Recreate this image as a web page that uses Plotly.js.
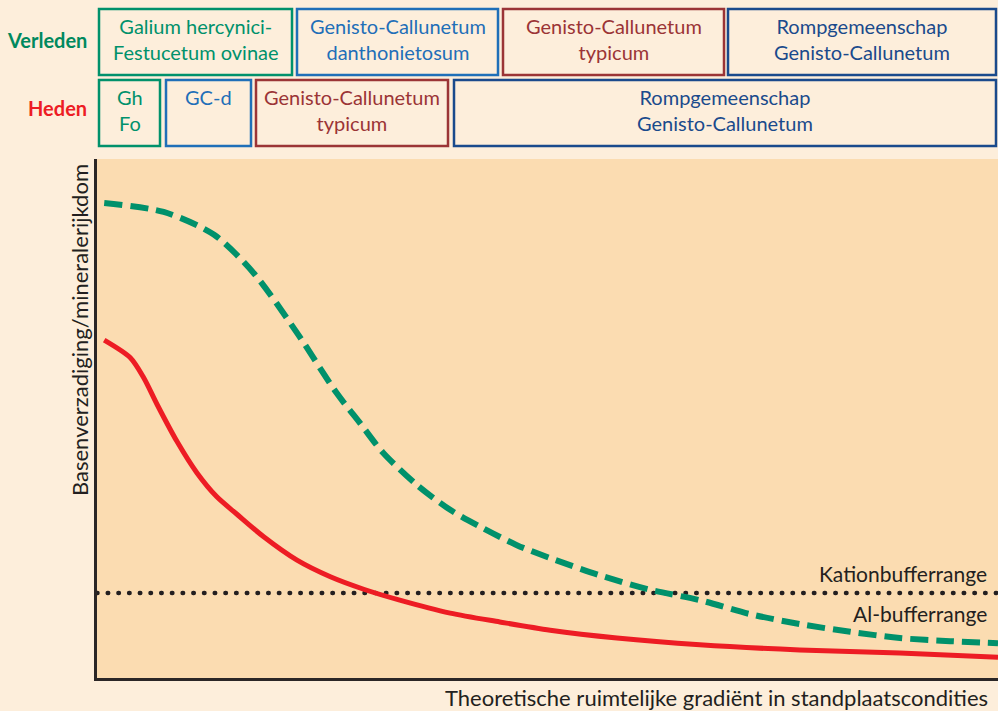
<!DOCTYPE html>
<html>
<head>
<meta charset="utf-8">
<script src="https://cdn.plot.ly/plotly-3.0.1.min.js"></script>
<style>
  html, body { margin: 0; padding: 0; background: #fdeedb; }
  #chart { width: 998px; height: 711px; }
  #chart .scatterlayer .trace:first-child path.js-line { stroke-linecap: round; }
</style>
</head>
<body>
<div id="chart"></div>
<script>
// ---- Data (gradient position 0-100, relative base saturation 0-100) ----
const verledenX = [0.8, 7.4, 13.0, 17.4, 22.2, 26.6, 29.2, 31.7, 35.5, 39.2, 42.8, 46.6, 50.3, 55.8, 61.4, 66.9, 72.5, 78.0, 83.6, 89.1, 94.7, 100];
const verledenY = [91.5, 89.8, 85.4, 78.0, 66.5, 54.9, 49.1, 43.5, 37.2, 32.4, 28.9, 25.6, 23.1, 19.8, 17.0, 15.0, 12.3, 10.4, 8.9, 7.7, 7.1, 6.7];

const hedenX = [0.8, 3.7, 5.2, 6.7, 8.9, 11.1, 13.3, 15.5, 18.5, 22.2, 25.9, 29.6, 33.6, 39.2, 44.7, 50.3, 57.7, 66.9, 78.0, 89.1, 100];
const hedenY = [65.1, 61.7, 57.8, 52.6, 45.5, 39.5, 34.9, 31.6, 27.2, 22.7, 19.5, 17.1, 15.0, 12.5, 10.8, 9.2, 7.7, 6.4, 5.4, 4.8, 4.0];

const kationLevel = 16.4;
const rangeLabels = ["Kationbufferrange", "Al-bufferrange"];

const rowLabels = ["Verleden", "Heden"];
const verledenCommunities = ["Galium hercynici-<br>Festucetum ovinae", "Genisto-Callunetum<br>danthonietosum", "Genisto-Callunetum<br>typicum", "Rompgemeenschap<br>Genisto-Callunetum"];
const hedenCommunities = ["Gh<br>Fo", "GC-d", "Genisto-Callunetum<br>typicum", "Rompgemeenschap<br>Genisto-Callunetum"];

const xTitle = "Theoretische ruimtelijke gradiënt in standplaatscondities";
const yTitle = "Basenverzadiging/mineralerijkdom";

// ---- Layout helpers (pixel -> paper) ----
const W = 998, H = 711, ML = 97, MR = 0, MT = 159, MB = 33;
const PW = W - ML - MR, PH = H - MT - MB;
const px = x => (x - ML) / PW;
const py = y => (H - MB - y) / PH;

const FONT = "Lato, 'Open Sans', sans-serif";
const cGreen = "#00916b", cBlue = "#1f6fb8", cRed = "#9b3436", cNavy = "#1a4a8c";

const rowY = [[9, 75], [80, 146]];
const boxesRow = [
  [[99, 292], [297, 498], [503, 724], [728, 996]],
  [[99, 160], [166, 251], [256, 448], [454, 996]]
];
const boxColors = [cGreen, cBlue, cRed, cNavy];

const shapes = [];
const annotations = [];
const texts = [verledenCommunities, hedenCommunities];
for (let r = 0; r < 2; r++) {
  for (let i = 0; i < 4; i++) {
    const [x0, x1] = boxesRow[r][i];
    const [y0, y1] = rowY[r];
    shapes.push({
      type: "rect", xref: "paper", yref: "paper",
      x0: px(x0), x1: px(x1), y0: py(y1), y1: py(y0),
      line: { color: boxColors[i], width: 2.5 }, fillcolor: "#fdeedb", layer: "above"
    });
    const single = texts[r][i].indexOf("<br>") < 0;
    annotations.push({
      xref: "paper", yref: "paper",
      x: px((x0 + x1) / 2), y: single ? py(y0 + 17) : py((y0 + y1) / 2 - 3),
      xanchor: "center", yanchor: "middle", showarrow: false,
      text: texts[r][i], align: "center",
      font: { family: FONT, size: 20, color: boxColors[i] }
    });
  }
}
annotations.push({
  xref: "paper", yref: "paper", x: px(89), y: py(40), xanchor: "right", yanchor: "middle",
  showarrow: false, text: "<b>" + rowLabels[0] + "</b>", font: { family: FONT, size: 20, color: "#00895e" }
});
annotations.push({
  xref: "paper", yref: "paper", x: px(89), y: py(108), xanchor: "right", yanchor: "middle",
  showarrow: false, text: "<b>" + rowLabels[1] + "</b>", font: { family: FONT, size: 20, color: "#ed1c24" }
});
annotations.push({
  xref: "paper", yref: "paper", x: px(989), y: py(573), xanchor: "right", yanchor: "middle",
  showarrow: false, text: rangeLabels[0], font: { family: FONT, size: 21, color: "#231f20" }
});
annotations.push({
  xref: "paper", yref: "paper", x: px(989), y: py(613), xanchor: "right", yanchor: "middle",
  showarrow: false, text: rangeLabels[1], font: { family: FONT, size: 21, color: "#231f20" }
});
annotations.push({
  xref: "paper", yref: "paper", x: px(990), y: py(697), xanchor: "right", yanchor: "middle",
  showarrow: false, text: xTitle, font: { family: FONT, size: 22, color: "#231f20" }
});
annotations.push({
  xref: "paper", yref: "paper", x: px(79), y: py(330), xanchor: "center", yanchor: "middle",
  showarrow: false, textangle: -90, text: yTitle, font: { family: FONT, size: 22, color: "#231f20" }
});

const traces = [
  {
    x: [0, 100], y: [kationLevel, kationLevel], mode: "lines",
    line: { color: "#231f20", width: 4.5, dash: "0.5px,10.2px" }, hoverinfo: "skip"
  },
  {
    x: verledenX, y: verledenY, mode: "lines",
    line: { color: cGreen, width: 6, dash: "18px,8px", shape: "spline", smoothing: 0.8 }, hoverinfo: "skip"
  },
  {
    x: hedenX, y: hedenY, mode: "lines",
    line: { color: "#ed1c24", width: 5, shape: "spline", smoothing: 0.8 }, hoverinfo: "skip"
  }
];

const layout = {
  width: W, height: H,
  margin: { l: ML, r: MR, t: MT, b: MB, pad: 0 },
  paper_bgcolor: "#fdeedb",
  plot_bgcolor: "#fbdcb1",
  showlegend: false,
  font: { family: FONT },
  xaxis: { range: [0, 100], showgrid: false, zeroline: false, showticklabels: false, ticks: "",
           showline: true, linecolor: "#2b2626", linewidth: 3, fixedrange: true },
  yaxis: { range: [0, 100], showgrid: false, zeroline: false, showticklabels: false, ticks: "",
           showline: true, linecolor: "#2b2626", linewidth: 3, fixedrange: true },
  shapes: shapes,
  annotations: annotations
};

Plotly.newPlot("chart", traces, layout, { staticPlot: true, displayModeBar: false });
</script>
</body>
</html>
